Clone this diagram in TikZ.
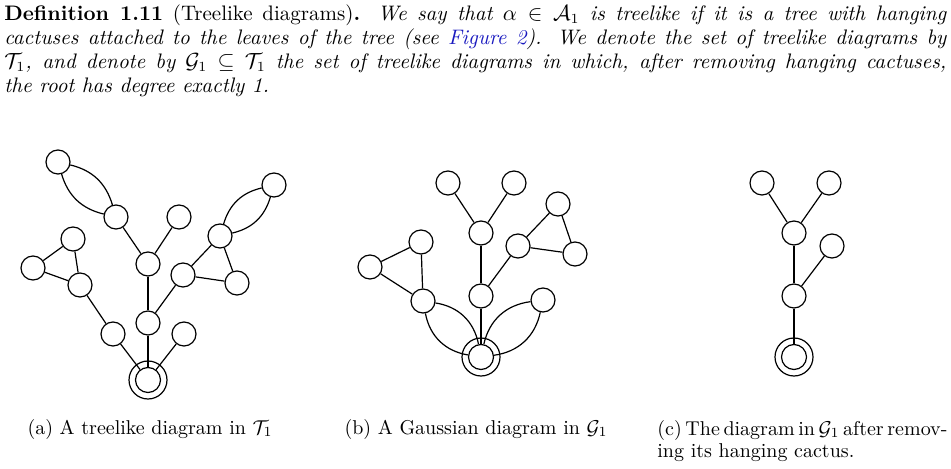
\documentclass[tikz,border=0pt]{standalone}
\usepackage{amsmath,amssymb}
\definecolor{linkblue}{rgb}{0.1,0.1,0.75}
\begin{document}
\begin{tikzpicture}[x=0.5pt,y=-0.5pt,
  vtx/.style={circle,draw,line width=0.6pt,minimum size=12pt,inner sep=0pt},
  rootin/.style={circle,draw,line width=0.6pt,minimum size=12.5pt,inner sep=0pt},
  rootout/.style={circle,draw,line width=0.6pt,minimum size=19pt,inner sep=0pt},
  conn/.style={line width=0.6pt},
  captxt/.style={inner sep=0pt,anchor=base}]
\useasboundingbox (0,0) rectangle (951,469);
% text
\node[inner sep=0pt,anchor=north west,text width=471pt,align=justify,font=\fontsize{10.5pt}{12pt}\selectfont] (txt) at (4,4)
{\textbf{Definition 1.11} (Treelike diagrams)\textbf{.} \textit{We say that $\alpha\in\mathcal{A}_1$ is treelike if it is a tree with hanging\linebreak cactuses attached to the leaves of the tree (see \textcolor{linkblue}{Figure 2}). We denote the set of treelike diagrams by\linebreak $\mathcal{T}_1$, and denote by $\mathcal{G}_1\subseteq\mathcal{T}_1$ the set of treelike diagrams in which, after removing hanging cactuses,\linebreak the root has degree exactly 1.}};
% (a)
\node[vtx] (a1) at (58,162) {};
\node[vtx] (a2) at (116,217) {};
\node[vtx] (a3) at (179,217) {};
\node[vtx] (a4) at (148,264) {};
\node[vtx] (a5) at (274,185) {};
\node[vtx] (a6) at (220,236) {};
\node[vtx] (a7) at (183,275) {};
\node[vtx] (a8) at (237,283) {};
\node[vtx] (a9) at (73,239) {};
\node[vtx] (a10) at (33,268) {};
\node[vtx] (a11) at (80,285) {};
\node[vtx] (a12) at (113,334) {};
\node[vtx] (a13) at (148,323) {};
\node[vtx] (a14) at (184,334) {};
\node[rootin] (ra) at (148,380) {};
\node[rootout] (rao) at (148,380) {};
\draw[conn] (a1) to[bend left=30] (a2);
\draw[conn] (a1) to[bend right=30] (a2);
\draw[conn] (a2) -- (a4);
\draw[conn] (a3) -- (a4);
\draw[conn] (a4) -- (a13);
\draw[conn] (a5) to[bend left=30] (a6);
\draw[conn] (a5) to[bend right=30] (a6);
\draw[conn] (a6) -- (a7);
\draw[conn] (a6) -- (a8);
\draw[conn] (a7) -- (a8);
\draw[conn] (a7) -- (a13);
\draw[conn] (a9) -- (a10);
\draw[conn] (a9) -- (a11);
\draw[conn] (a10) -- (a11);
\draw[conn] (a11) -- (a12);
\draw[conn] (a12) -- (ra);
\draw[conn] (a13) -- (ra);
\draw[conn] (a14) -- (ra);
% (b)
\node[vtx] (b1) at (448,183) {};
\node[vtx] (b2) at (514,183) {};
\node[vtx] (b3) at (481,233) {};
\node[vtx] (b4) at (558,204) {};
\node[vtx] (b5) at (518,246) {};
\node[vtx] (b6) at (575,254) {};
\node[vtx] (b7) at (421,242) {};
\node[vtx] (b8) at (370,267) {};
\node[vtx] (b9) at (423,301) {};
\node[vtx] (b10) at (481,296) {};
\node[vtx] (b11) at (543,300) {};
\node[rootin] (rb) at (481,357) {};
\node[rootout] (rbo) at (481,357) {};
\draw[conn] (b1) -- (b3);
\draw[conn] (b2) -- (b3);
\draw[conn] (b3) -- (b10);
\draw[conn] (b5) -- (b10);
\draw[conn] (b5) -- (b4);
\draw[conn] (b5) -- (b6);
\draw[conn] (b4) -- (b6);
\draw[conn] (b7) -- (b8);
\draw[conn] (b7) -- (b9);
\draw[conn] (b8) -- (b9);
\draw[conn] (b9) to[bend left=35] (rb);
\draw[conn] (b9) to[bend right=35] (rb);
\draw[conn] (b11) to[bend left=35] (rb);
\draw[conn] (b11) to[bend right=35] (rb);
\draw[conn] (b10) -- (rb);
% (c)
\node[vtx] (c1) at (762,183) {};
\node[vtx] (c2) at (829,183) {};
\node[vtx] (c3) at (794,233) {};
\node[vtx] (c4) at (832,246) {};
\node[vtx] (c5) at (794,296) {};
\node[rootin] (rc) at (794,357) {};
\node[rootout] (rco) at (794,357) {};
\draw[conn] (c1) -- (c3);
\draw[conn] (c2) -- (c3);
\draw[conn] (c3) -- (c5);
\draw[conn] (c4) -- (c5);
\draw[conn] (c5) -- (rc);
% captions
\node[captxt] (capa) at (150,434) {(a) A treelike diagram in $\mathcal{T}_1$};
\node[captxt] (capb) at (476,434) {(b) A Gaussian diagram in $\mathcal{G}_1$};
\node[inner sep=0pt,anchor=base west,align=left,font=\fontsize{10pt}{11pt}\selectfont] (capc) at (657,457)
{\spaceskip=.333em plus .3em minus .3em\makebox[145pt][s]{(c) The diagram in $\mathcal{G}_1$ after remov-}\\ing its hanging cactus.};
\end{tikzpicture}
\end{document}
